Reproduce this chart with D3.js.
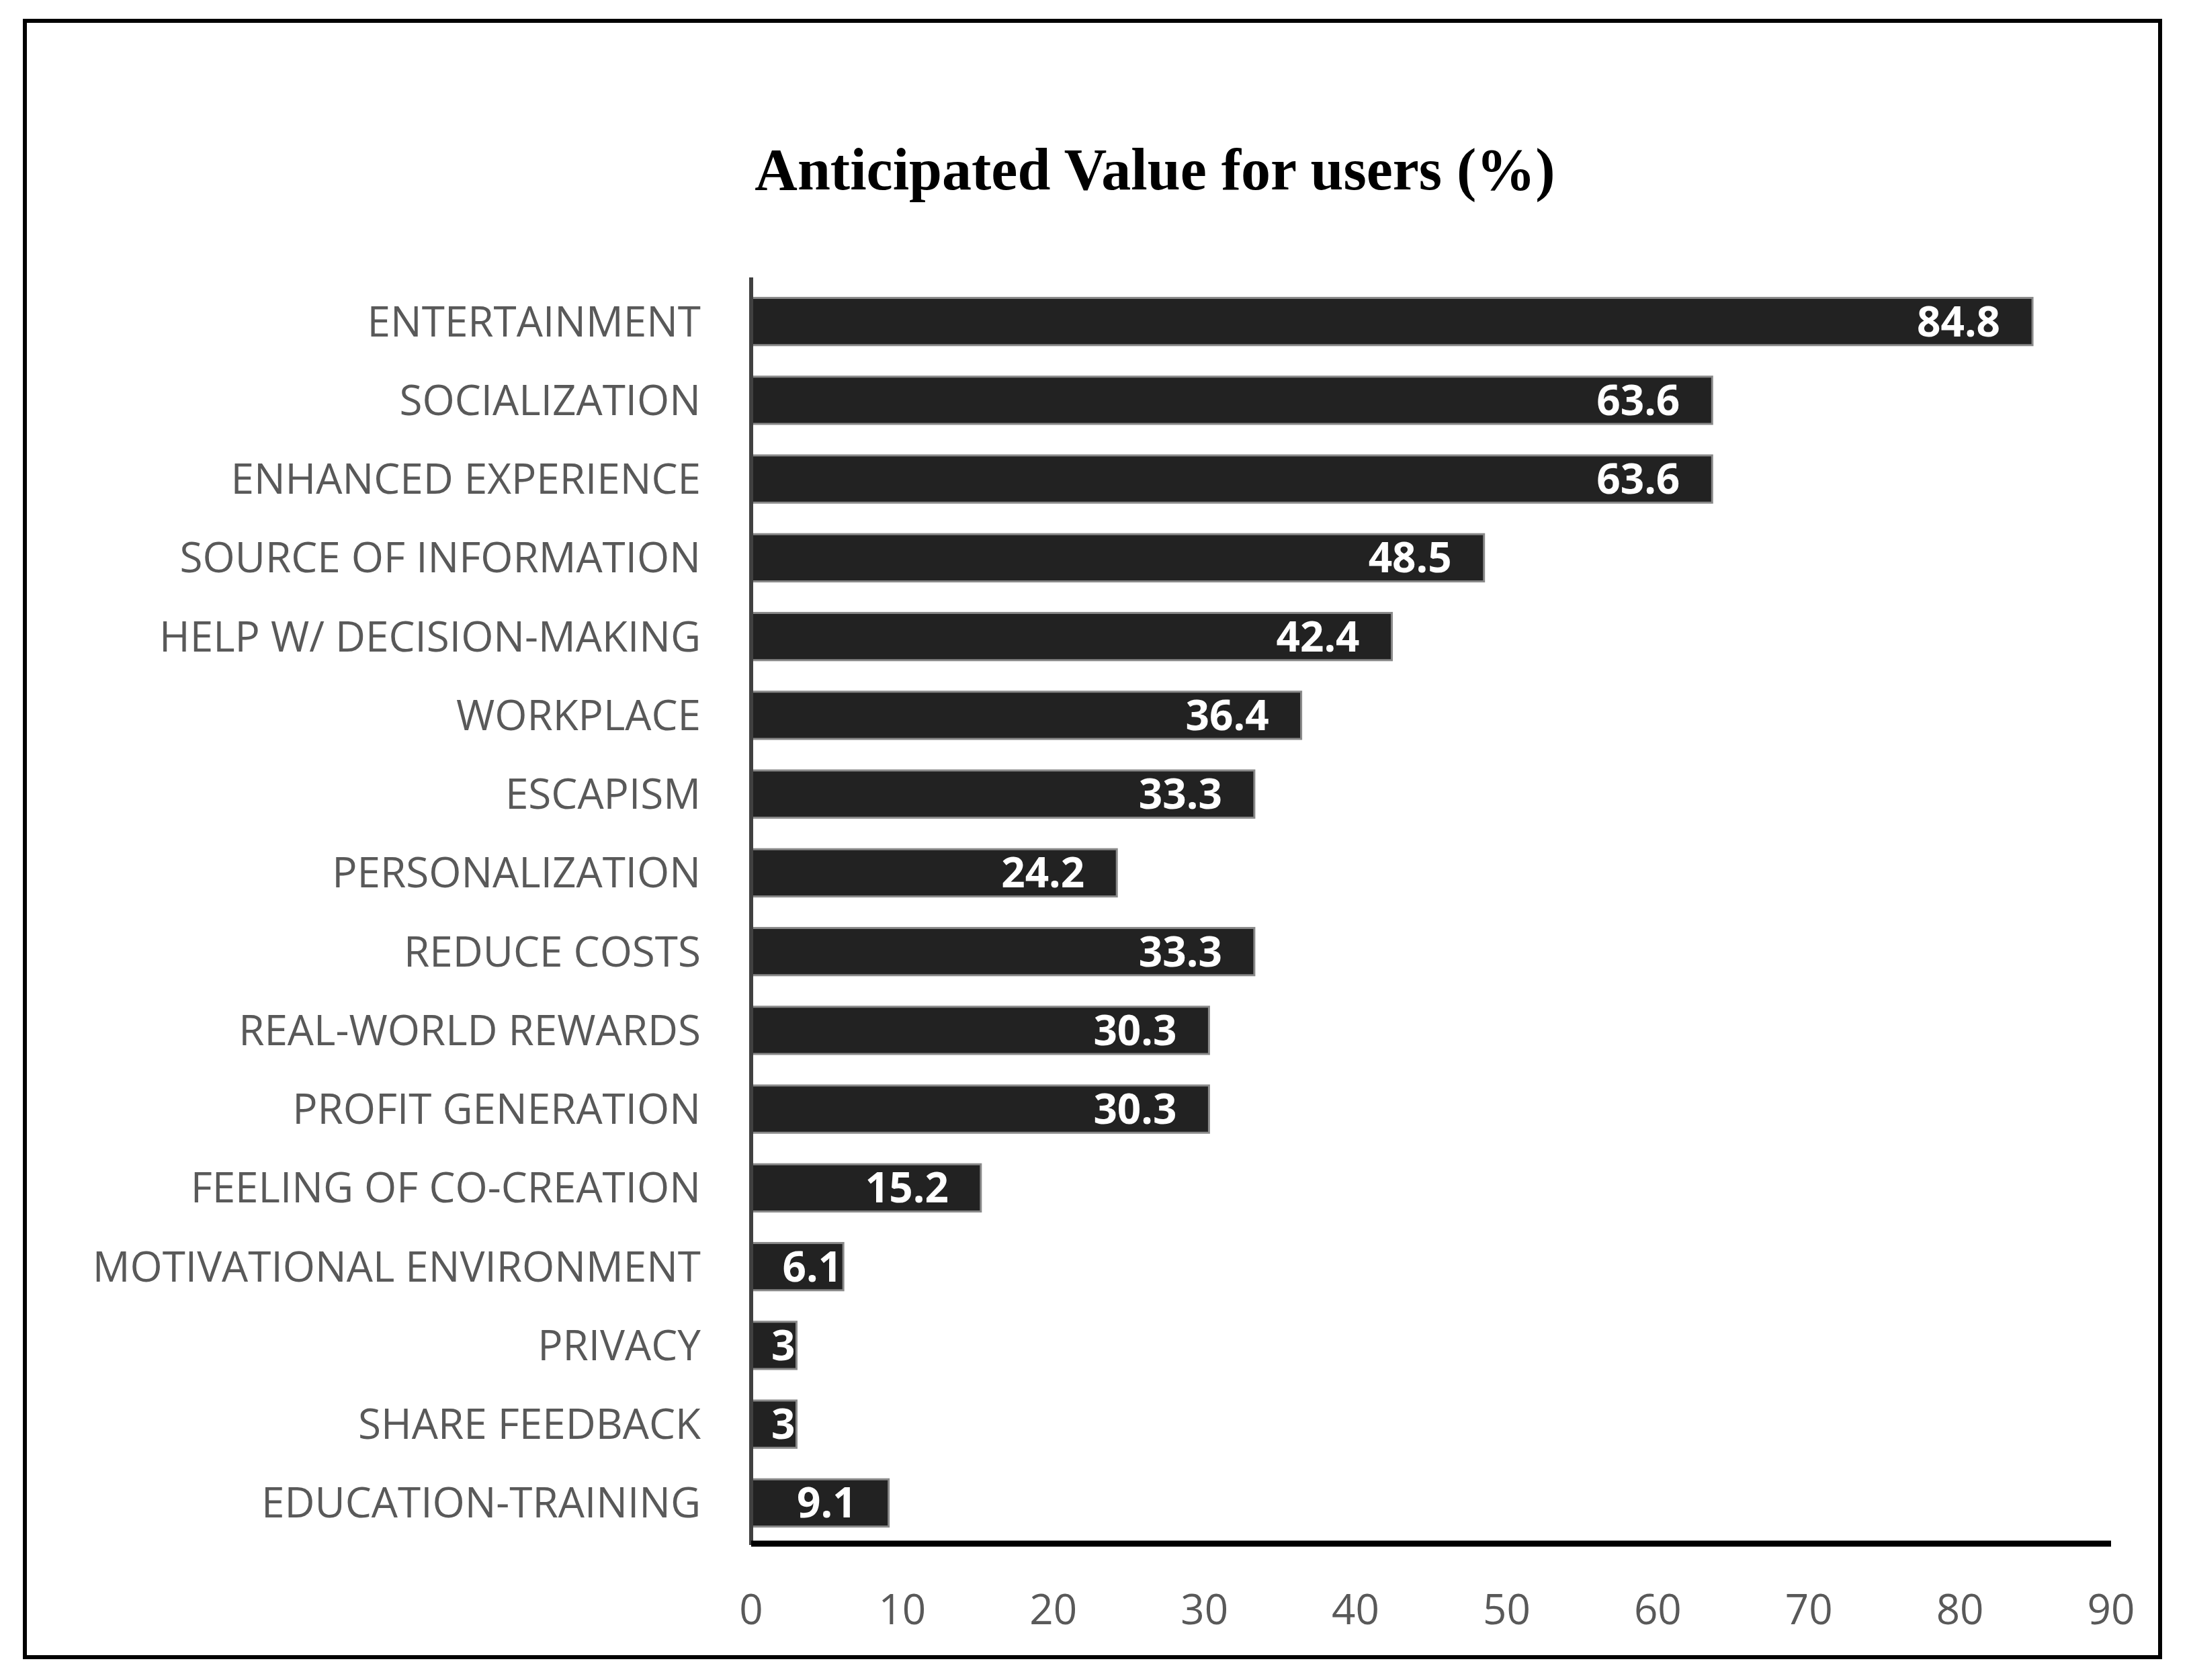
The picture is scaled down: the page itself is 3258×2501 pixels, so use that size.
<!DOCTYPE html>
<html><head><meta charset="utf-8">
<script src="https://cdn.jsdelivr.net/npm/d3@7"></script>
<style>body{margin:0;background:#fff}</style>
</head><body>
<svg id="vis" width="3258" height="2501"></svg>
<script>
// DATA
const categories = ["ENTERTAINMENT","SOCIALIZATION","ENHANCED EXPERIENCE","SOURCE OF INFORMATION",
  "HELP W/ DECISION-MAKING","WORKPLACE","ESCAPISM","PERSONALIZATION","REDUCE COSTS",
  "REAL-WORLD REWARDS","PROFIT GENERATION","FEELING OF CO-CREATION","MOTIVATIONAL ENVIRONMENT",
  "PRIVACY","SHARE FEEDBACK","EDUCATION-TRAINING"];
const values = [84.8,63.6,63.6,48.5,42.4,36.4,33.3,24.2,33.3,30.3,30.3,15.2,6.1,3,3,9.1];
const ticks = [0,10,20,30,40,50,60,70,80,90];

const svg = d3.select("#vis");
const font = "'Open Sans', 'Liberation Sans', sans-serif";

// frame
svg.append("rect").attr("x",37).attr("y",31).attr("width",3178).attr("height",2436)
  .attr("fill","none").attr("stroke","#000").attr("stroke-width",6);

svg.append("text").attr("x",1719).attr("y",282).attr("text-anchor","middle")
  .attr("font-family","'Liberation Serif', serif").attr("font-weight","bold")
  .attr("font-size",88).text("Anticipated Value for users (%)");

const x = d3.scaleLinear().domain([0,90]).range([1118,3142]);
const y = d3.scaleBand().domain(categories).range([420,2296]).paddingInner(0.4).paddingOuter(0.2);

// bars
const g = svg.append("g");
g.selectAll("rect").data(values).join("rect")
  .attr("x",x(0)).attr("y",(d,i)=>y(categories[i]))
  .attr("width",d=>x(d)-x(0)).attr("height",y.bandwidth())
  .attr("fill","#222").attr("stroke","#8a8a8a").attr("stroke-width",3);

// value labels
g.selectAll("text.v").data(values).join("text").attr("class","v")
  .attr("y",(d,i)=>y(categories[i])+y.bandwidth()/2+22)
  .attr("font-family",font).attr("font-weight","bold").attr("font-size",62)
  .attr("fill","#fff").text(d=>d)
  .each(function(d){
    const w = this.getComputedTextLength();
    let xe = x(d)-48;
    if (xe - w < x(0)+6) xe = Math.max(x(d)-2, x(0)+12+w);
    d3.select(this).attr("x",xe).attr("text-anchor","end");
  });

// category labels
svg.selectAll("text.c").data(categories).join("text").attr("class","c")
  .attr("x",1043).attr("y",d=>y(d)+y.bandwidth()/2+22).attr("text-anchor","end")
  .attr("font-family",font).attr("font-size",62).attr("fill","#595959").text(d=>d);

// axes lines
svg.append("line").attr("x1",x(0)).attr("x2",x(0)).attr("y1",413).attr("y2",2300)
  .attr("stroke","#404040").attr("stroke-width",6);
svg.append("line").attr("x1",x(0)).attr("x2",x(90)).attr("y1",2298).attr("y2",2298)
  .attr("stroke","#000").attr("stroke-width",9);

// tick labels
svg.selectAll("text.t").data(ticks).join("text").attr("class","t")
  .attr("x",d=>x(d)).attr("y",2418).attr("text-anchor","middle")
  .attr("font-family",font).attr("font-size",62).attr("fill","#595959").text(d=>d);
</script>
</body></html>
